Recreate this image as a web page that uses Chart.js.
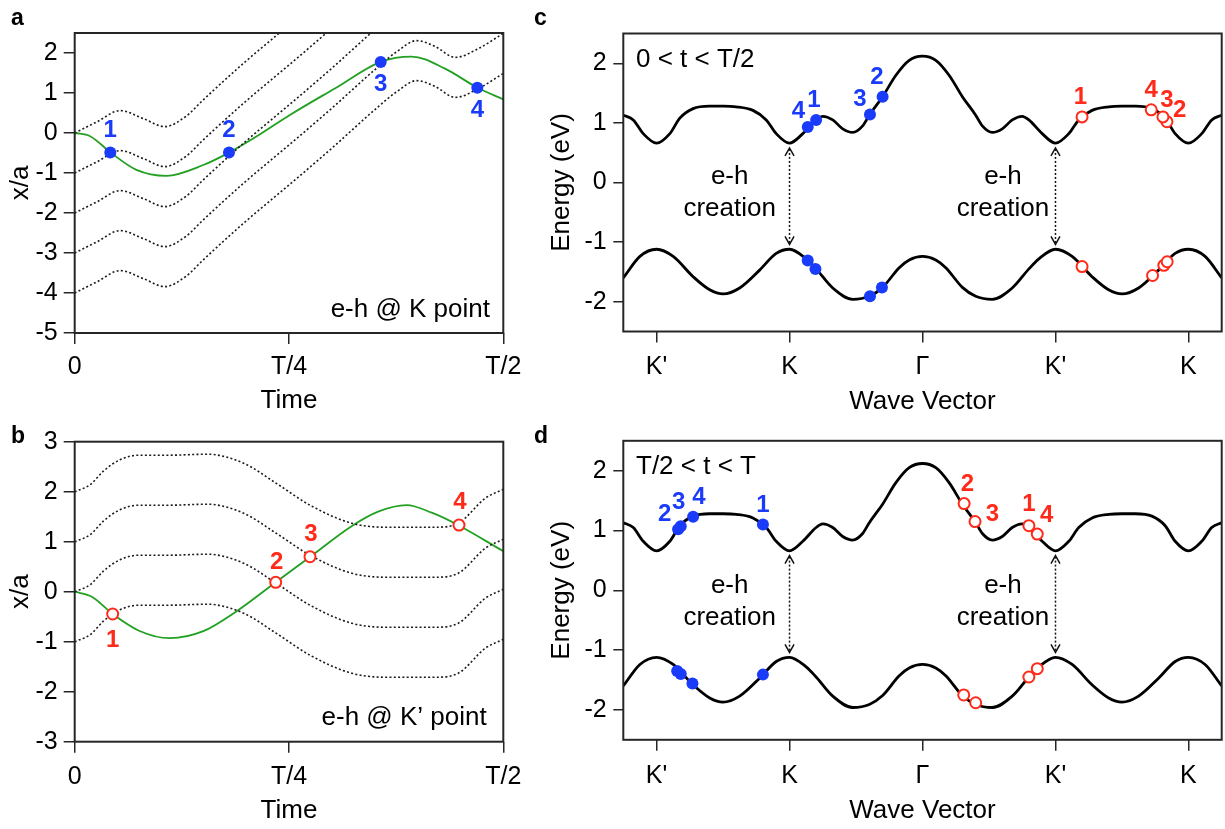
<!DOCTYPE html>
<html>
<head>
<meta charset="utf-8">
<script src="https://cdn.jsdelivr.net/npm/chart.js@4.4.1/dist/chart.umd.min.js"></script>
<style>
html,body{margin:0;padding:0;background:#fff;}
#wrap{position:relative;width:1225px;height:829px;overflow:hidden;background:#fff;}
canvas{position:absolute;display:block;}
</style>
</head>
<body>
<div id="wrap">
<canvas id="ca" width="525" height="415" style="left:0;top:0;width:525px;height:415px"></canvas>
<canvas id="cb" width="525" height="414" style="left:0;top:415px;width:525px;height:414px"></canvas>
<canvas id="cc" width="700" height="415" style="left:525px;top:0;width:700px;height:415px"></canvas>
<canvas id="cd" width="700" height="414" style="left:525px;top:415px;width:700px;height:414px"></canvas>
</div>
<script>
// ---------------- DATA ----------------
// Panels a, b: time axis (in units of T)
const timeTicks = [0, 0.25, 0.5];
const timeTickLabels = ['0', 'T/4', 'T/2'];

// Panel a (e-h @ K point)
const aYTicks = [-5, -4, -3, -2, -1, 0, 1, 2];
const aYTickLabels = ['-5', '-4', '-3', '-2', '-1', '0', '1', '2'];
const aGreenT = [0, 0.018, 0.042, 0.072, 0.107, 0.15, 0.18, 0.212, 0.251, 0.304, 0.357, 0.393, 0.432, 0.47, 0.5];
const aGreenX = [0, -0.08, -0.49, -0.92, -1.07, -0.8, -0.49, -0.09, 0.45, 1.12, 1.78, 1.91, 1.61, 1.13, 0.84];
const aPathT = [0, 0.026, 0.053, 0.08, 0.105, 0.13, 0.15, 0.2, 0.25, 0.3, 0.35, 0.375, 0.399, 0.42, 0.444, 0.47, 0.5];
const aPath0 = [0, 0.28, 0.56, 0.36, 0.16, 0.42, 0.83, 1.8, 2.7, 3.62, 4.58, 5.02, 5.31, 5.17, 4.89, 5.1, 5.49];
const aPath1 = [-1, -0.72, -0.44, -0.64, -0.84, -0.58, -0.17, 0.8, 1.7, 2.62, 3.58, 4.02, 4.31, 4.17, 3.89, 4.1, 4.49];
const aPath2 = [-2, -1.72, -1.44, -1.64, -1.84, -1.58, -1.17, -0.2, 0.7, 1.62, 2.58, 3.02, 3.31, 3.17, 2.89, 3.1, 3.49];
const aPath3 = [-3, -2.72, -2.44, -2.64, -2.84, -2.58, -2.17, -1.2, -0.3, 0.62, 1.58, 2.02, 2.31, 2.17, 1.89, 2.1, 2.49];
const aPath4 = [-4, -3.72, -3.44, -3.64, -3.84, -3.58, -3.17, -2.2, -1.3, -0.38, 0.58, 1.02, 1.31, 1.17, 0.89, 1.1, 1.49];
const aDotT = [0.0415, 0.18, 0.357, 0.4697];
const aDotX = [-0.49, -0.49, 1.775, 1.13];

// Panel b (e-h @ K' point)
const bYTicks = [-3, -2, -1, 0, 1, 2, 3];
const bYTickLabels = ['-3', '-2', '-1', '0', '1', '2', '3'];
const bGreenT = [0, 0.02, 0.0443, 0.075, 0.111, 0.15, 0.189, 0.2345, 0.2757, 0.323, 0.354, 0.387, 0.4165, 0.4475, 0.5];
const bGreenX = [0, -0.1, -0.446, -0.78, -0.93, -0.79, -0.39, 0.19, 0.71, 1.31, 1.6, 1.73, 1.58, 1.33, 0.81];
const bPathT = [0, 0.018, 0.034, 0.053, 0.075, 0.11, 0.155, 0.197, 0.235, 0.2745, 0.323, 0.362, 0.42, 0.4475, 0.479, 0.5];
const bPath2 = [2, 2.14, 2.42, 2.64, 2.73, 2.73, 2.75, 2.57, 2.17, 1.73, 1.37, 1.29, 1.29, 1.37, 1.87, 2.05];
const bPath1 = [1, 1.14, 1.42, 1.64, 1.73, 1.73, 1.75, 1.57, 1.17, 0.73, 0.37, 0.29, 0.29, 0.37, 0.87, 1.05];
const bPath0 = [0, 0.14, 0.42, 0.64, 0.73, 0.73, 0.75, 0.57, 0.17, -0.27, -0.63, -0.71, -0.71, -0.63, -0.13, 0.05];
const bPathM1 = [-1, -0.86, -0.58, -0.36, -0.27, -0.27, -0.25, -0.43, -0.83, -1.27, -1.63, -1.71, -1.71, -1.63, -1.13, -0.95];
const bDotT = [0.0443, 0.2345, 0.2745, 0.4483];
const bDotX = [-0.446, 0.187, 0.70, 1.333];

const pointNames = ['1', '2', '3', '4'];

// Panels c, d: band structure
const kTicks = [0, 1, 2, 3, 4];
const kTickLabels = ["K'", 'K', 'Γ', "K'", 'K'];
const eYTicks = [-2, -1, 0, 1, 2];
const eYTickLabels = ['-2', '-1', '0', '1', '2'];
const upperK = [-0.25, -0.175, -0.1, 0, 0.1, 0.175, 0.275, 0.4, 0.5, 0.6, 0.725, 0.825, 0.9, 1.0, 1.1, 1.2, 1.25, 1.325, 1.4, 1.475, 1.55, 1.6, 1.7, 1.8, 1.9, 2.0, 2.1, 2.2, 2.3, 2.4, 2.45, 2.525, 2.6, 2.675, 2.75, 2.8, 2.9, 3.0, 3.1, 3.175, 3.275, 3.4, 3.5, 3.6, 3.725, 3.825, 3.9, 4.0, 4.1, 4.175, 4.25];
const upperE = [1.13, 1.05, 0.82, 0.66, 0.82, 1.08, 1.24, 1.28, 1.28, 1.27, 1.21, 1.05, 0.82, 0.66, 0.82, 1.05, 1.11, 1.05, 0.9, 0.84, 0.95, 1.13, 1.44, 1.8, 2.05, 2.12, 2.05, 1.8, 1.44, 1.13, 0.95, 0.84, 0.9, 1.05, 1.11, 1.05, 0.82, 0.66, 0.82, 1.05, 1.21, 1.27, 1.28, 1.28, 1.24, 1.08, 0.82, 0.66, 0.82, 1.05, 1.13];
const lowerK = [-0.25, -0.125, 0, 0.125, 0.275, 0.4, 0.5, 0.625, 0.775, 0.9, 1.0, 1.125, 1.2, 1.325, 1.475, 1.6, 1.7, 1.825, 1.9, 2.0, 2.1, 2.175, 2.3, 2.4, 2.525, 2.675, 2.8, 2.875, 3.0, 3.125, 3.275, 3.4, 3.5, 3.625, 3.775, 3.9, 4.0, 4.125, 4.25];
const lowerE = [-1.60, -1.24, -1.12, -1.24, -1.58, -1.80, -1.87, -1.77, -1.47, -1.19, -1.12, -1.28, -1.45, -1.77, -1.96, -1.91, -1.76, -1.43, -1.30, -1.24, -1.30, -1.43, -1.76, -1.91, -1.96, -1.77, -1.45, -1.28, -1.12, -1.24, -1.58, -1.80, -1.87, -1.77, -1.47, -1.19, -1.12, -1.24, -1.60];

// Panel c (0 < t < T/2)
const cBlueUpK = [1.2, 1.7, 1.605, 1.137];
const cBlueUpE = [1.05, 1.44, 1.14, 0.93];
const cBlueLoK = [1.137, 1.195, 1.605, 1.695];
const cBlueLoE = [-1.31, -1.45, -1.91, -1.76];
const cRedUpK = [3.2, 3.838, 3.808, 3.72];
const cRedUpE = [1.10, 1.02, 1.10, 1.22];
const cRedLoK = [3.2, 3.73, 3.815, 3.84];
const cRedLoE = [-1.41, -1.56, -1.39, -1.33];

// Panel d (T/2 < t < T)
const dBlueUpK = [0.8, 0.162, 0.182, 0.275];
const dBlueUpE = [1.10, 1.02, 1.07, 1.23];
const dBlueLoK = [0.8, 0.155, 0.182, 0.27];
const dBlueLoE = [-1.41, -1.35, -1.40, -1.56];
const dRedUpK = [2.8, 2.313, 2.395, 2.863];
const dRedUpE = [1.08, 1.45, 1.15, 0.94];
const dRedLoK = [2.31, 2.4, 2.8, 2.863];
const dRedLoE = [-1.75, -1.88, -1.45, -1.31];

// e-h creation arrows
const arrowK = [1, 3];
const arrowTopE = 0.58;
const arrowBottomE = -1.04;

// ---------------- STYLE ----------------
const FONT = "'Liberation Sans', Arial, Helvetica, sans-serif";
const AXIS = '#262626';
const BLUE = '#1a3cfa';
const RED = '#ff2a1a';
const GREEN = '#22a022';

function xy(xs, ys) { return xs.map((x, i) => ({ x: x, y: ys[i] })); }

function lineDs(xs, ys, color, width, dash) {
  return { type: 'line', data: xy(xs, ys), borderColor: color, borderWidth: width,
    borderDash: dash || [], pointRadius: 0, pointHoverRadius: 0, fill: false,
    cubicInterpolationMode: 'monotone', order: 2 };
}
function dotDs(xs, ys, filled, color, labels, offsets) {
  return { type: 'scatter', data: xy(xs, ys),
    pointRadius: filled ? 6 : 5.5, pointHoverRadius: filled ? 6 : 5.5,
    pointBackgroundColor: filled ? color : '#ffffff', pointBorderColor: color,
    pointBorderWidth: filled ? 0 : 2, pointLabels: labels || null,
    labelOffsets: offsets || null, labelColor: color, order: 0 };
}

function noPad(s) { s.paddingLeft = 0; s.paddingRight = 0; s.paddingTop = 0; s.paddingBottom = 0; }

function makeScales(o) {
  const tickFont = { family: FONT, size: 25 };
  const titleFont = { family: FONT, size: 26 };
  return {
    x: {
      type: 'linear', min: o.xmin, max: o.xmax,
      afterBuildTicks: s => { s.ticks = o.xticks.map(v => ({ value: v })); },
      ticks: { callback: (v, i) => o.xlabels[i], font: tickFont, color: '#000',
        padding: o.xpad, maxRotation: 0, minRotation: 0, autoSkip: false },
      grid: { drawOnChartArea: false, drawTicks: true, tickLength: 11, color: AXIS, lineWidth: 1.5 },
      border: { display: false },
      title: { display: true, text: o.xtitle, font: titleFont, color: '#000',
        padding: { top: 0, bottom: o.xtpad } },
      afterFit: s => { s.height = o.xh; noPad(s); }
    },
    y: {
      type: 'linear', min: o.ymin, max: o.ymax,
      afterBuildTicks: s => { s.ticks = o.yticks.map(v => ({ value: v })); },
      ticks: { callback: (v, i) => o.ylabels[i], font: tickFont, color: '#000',
        padding: o.ypad, autoSkip: false },
      grid: { drawOnChartArea: false, drawTicks: true, tickLength: o.ytl, color: AXIS, lineWidth: 1.5 },
      border: { display: false },
      title: { display: true, text: o.ytitle, font: titleFont, color: '#000',
        padding: { top: o.ytpad, bottom: 0 } },
      afterFit: s => { s.width = o.yw; noPad(s); }
    }
  };
}

function makePlugin(o) {
  return {
    id: 'decor' + o.letter,
    afterDatasetsDraw(chart) {
      const ctx = chart.ctx;
      const a = chart.chartArea;
      const xs = chart.scales.x, ys = chart.scales.y;
      ctx.save();
      // e-h creation arrows
      if (o.arrows) {
        ctx.strokeStyle = '#111'; ctx.lineWidth = 1.5;
        arrowK.forEach(k => {
          const x = xs.getPixelForValue(k);
          const yt = ys.getPixelForValue(arrowTopE);
          const yb = ys.getPixelForValue(arrowBottomE);
          ctx.setLineDash([2, 2]);
          ctx.beginPath(); ctx.moveTo(x, yt + 1); ctx.lineTo(x, yb - 1); ctx.stroke();
          ctx.setLineDash([]);
          ctx.beginPath(); ctx.moveTo(x - 4.5, yt + 8); ctx.lineTo(x, yt); ctx.lineTo(x + 4.5, yt + 8); ctx.stroke();
          ctx.beginPath(); ctx.moveTo(x - 4.5, yb - 8); ctx.lineTo(x, yb); ctx.lineTo(x + 4.5, yb - 8); ctx.stroke();
        });
        ctx.fillStyle = '#000';
        ctx.font = '26px ' + FONT;
        ctx.textAlign = 'center'; ctx.textBaseline = 'alphabetic';
        o.ehTextK.forEach(k => {
          const x = xs.getPixelForValue(k);
          ctx.fillText('e-h', x, ys.getPixelForValue(o.ehLine1));
          ctx.fillText('creation', x, ys.getPixelForValue(o.ehLine2));
        });
      }
      // point labels
      chart.data.datasets.forEach((ds, i) => {
        if (!ds.pointLabels) return;
        const meta = chart.getDatasetMeta(i);
        ctx.fillStyle = ds.labelColor;
        ctx.font = 'bold 24px ' + FONT;
        ctx.textAlign = 'center'; ctx.textBaseline = 'middle';
        meta.data.forEach((el, j) => {
          const off = ds.labelOffsets[j];
          ctx.fillText(ds.pointLabels[j], el.x + off[0], el.y + off[1] + 1);
        });
      });
      // corner text
      ctx.fillStyle = '#000';
      ctx.font = '26px ' + FONT;
      ctx.textBaseline = 'alphabetic';
      if (o.brText) {
        ctx.textAlign = 'right';
        ctx.fillText(o.brText, a.right - o.brDx, a.bottom - o.brDy);
      }
      if (o.tlText) {
        ctx.textAlign = 'left';
        ctx.fillText(o.tlText, a.left + 12.7, a.top + 33.3);
      }
      // frame
      ctx.strokeStyle = AXIS; ctx.lineWidth = 2;
      ctx.strokeRect(a.left, a.top, a.right - a.left, a.bottom - a.top);
      // panel letter
      ctx.fillStyle = '#000';
      ctx.font = 'bold 23px ' + FONT;
      ctx.textAlign = 'left'; ctx.textBaseline = 'alphabetic';
      ctx.fillText(o.letter, o.lx, o.ly);
      ctx.restore();
    }
  };
}

function build(id, datasets, scaleOpts, padding, plug) {
  return new Chart(document.getElementById(id), {
    type: 'scatter',
    data: { datasets: datasets },
    options: {
      responsive: false, animation: false, devicePixelRatio: 1,
      layout: { padding: padding, autoPadding: false },
      plugins: { legend: { display: false }, tooltip: { enabled: false } },
      events: [],
      scales: makeScales(scaleOpts)
    },
    plugins: [plug]
  });
}

const DOT = [2, 2.3];
const GREY = '#1a1a1a';

// Panel a
build('ca', [
  lineDs(aPathT, aPath0, GREY, 1.6, DOT),
  lineDs(aPathT, aPath1, GREY, 1.6, DOT),
  lineDs(aPathT, aPath2, GREY, 1.6, DOT),
  lineDs(aPathT, aPath3, GREY, 1.6, DOT),
  lineDs(aPathT, aPath4, GREY, 1.6, DOT),
  lineDs(aGreenT, aGreenX, GREEN, 1.8),
  dotDs(aDotT, aDotX, true, BLUE, pointNames, [[0, -23], [0, -23], [0, 21], [0, 22]])
], { xmin: 0, xmax: 0.5, xticks: timeTicks, xlabels: timeTickLabels, xpad: 8, xtitle: 'Time', xtpad: -1.5, xh: 82,
     ymin: -5, ymax: 2.5, yticks: aYTicks, ylabels: aYTickLabels, ypad: 6, ytl: 11, ytitle: 'x/a', ytpad: 5.5, yw: 74.7 },
   { top: 33, right: 21.7, left: 0, bottom: 0 },
   makePlugin({ letter: 'a', lx: 11, ly: 25, brText: 'e-h @ K point', brDx: 13.3, brDy: 16.3 }));

// Panel b
build('cb', [
  lineDs(bPathT, bPath2, GREY, 1.6, DOT),
  lineDs(bPathT, bPath1, GREY, 1.6, DOT),
  lineDs(bPathT, bPath0, GREY, 1.6, DOT),
  lineDs(bPathT, bPathM1, GREY, 1.6, DOT),
  lineDs(bGreenT, bGreenX, GREEN, 1.8),
  dotDs(bDotT, bDotX, false, RED, pointNames, [[0, 25.5], [1, -20.6], [1, -23.4], [1, -23.3]])
], { xmin: 0, xmax: 0.5, xticks: timeTicks, xlabels: timeTickLabels, xpad: 9, xtitle: 'Time', xtpad: 2.5, xh: 87.3,
     ymin: -3, ymax: 3, yticks: bYTicks, ylabels: bYTickLabels, ypad: 6, ytl: 11, ytitle: 'x/a', ytpad: 5.5, yw: 74.7 },
   { top: 26.7, right: 21.7, left: 0, bottom: 0 },
   makePlugin({ letter: 'b', lx: 11, ly: 28, brText: 'e-h @ K\u2019 point', brDx: 16.6, brDy: 16.7 }));

// Panel c
build('cc', [
  lineDs(upperK, upperE, '#000', 2.8),
  lineDs(lowerK, lowerE, '#000', 2.8),
  dotDs(cBlueUpK, cBlueUpE, true, BLUE, pointNames, [[-2.3, -21], [-5.7, -20], [-10, -16.3], [-9.3, -16.7]]),
  dotDs(cBlueLoK, cBlueLoE, true, BLUE),
  dotDs(cRedUpK, cRedUpE, false, RED, pointNames, [[-1.7, -21], [12.7, -12.3], [4, -17.3], [0, -20]]),
  dotDs(cRedLoK, cRedLoE, false, RED)
], { xmin: -0.25, xmax: 4.25, xticks: kTicks, xlabels: kTickLabels, xpad: 9.5, xtitle: 'Wave Vector', xtpad: -2, xh: 83.5,
     ymin: -2.5, ymax: 2.5, yticks: eYTicks, ylabels: eYTickLabels, ypad: 6.6, ytl: 10, ytitle: 'Energy (eV)', ytpad: 21, yw: 98.3 },
   { top: 33.5, right: 3.3, left: 0, bottom: 0 },
   makePlugin({ letter: 'c', lx: 9, ly: 25, arrows: true, ehTextK: [0.55, 2.605], ehLine1: -0.03, ehLine2: -0.56, tlText: '0 < t < T/2' }));

// Panel d
build('cd', [
  lineDs(upperK, upperE, '#000', 2.8),
  lineDs(lowerK, lowerE, '#000', 2.8),
  dotDs(dBlueUpK, dBlueUpE, true, BLUE, pointNames, [[0, -20.3], [-13.3, -15.7], [-2, -25.3], [5.7, -20.3]]),
  dotDs(dBlueLoK, dBlueLoE, true, BLUE),
  dotDs(dRedUpK, dRedUpE, false, RED, pointNames, [[0, -22.3], [3.3, -20], [17.3, -8.3], [9.3, -19.3]]),
  dotDs(dRedLoK, dRedLoE, false, RED)
], { xmin: -0.25, xmax: 4.25, xticks: kTicks, xlabels: kTickLabels, xpad: 10.5, xtitle: 'Wave Vector', xtpad: 2.3, xh: 89.2,
     ymin: -2.5, ymax: 2.5, yticks: eYTicks, ylabels: eYTickLabels, ypad: 6.6, ytl: 10, ytitle: 'Energy (eV)', ytpad: 21, yw: 98.3 },
   { top: 25.8, right: 3.3, left: 0, bottom: 0 },
   makePlugin({ letter: 'd', lx: 9, ly: 28, arrows: true, ehTextK: [0.55, 2.605], ehLine1: -0.05, ehLine2: -0.58, tlText: 'T/2 < t < T' }));
</script>
</body>
</html>
